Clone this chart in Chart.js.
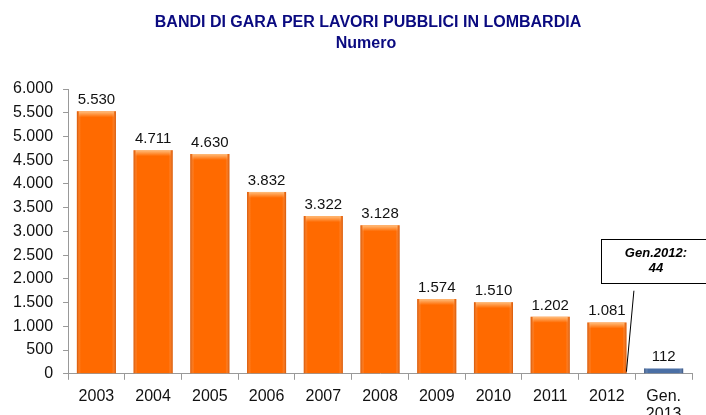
<!DOCTYPE html>
<html>
<head>
<meta charset="utf-8">
<script src="https://cdn.jsdelivr.net/npm/chart.js@4.4.1/dist/chart.umd.min.js"></script>
<style>
  html, body { margin: 0; padding: 0; background: #fff; }
  #wrap { width: 706px; height: 415px; }
</style>
</head>
<body>
<div id="wrap"><canvas id="chart" width="706" height="415"></canvas></div>
<script>
const categories = ["2003", "2004", "2005", "2006", "2007", "2008", "2009", "2010", "2011", "2012", ["Gen.", "2013"]];
const bandi = [5530, 4711, 4630, 3832, 3322, 3128, 1574, 1510, 1202, 1081, 112];
const gen2012 = [null, null, null, null, null, null, null, null, null, 44, null];
const yTicks = [0, 500, 1000, 1500, 2000, 2500, 3000, 3500, 4000, 4500, 5000, 5500, 6000];

const ORANGE = "#ff6a00";
const BLUE = "#4a6fa5";
const FONT = "'Liberation Sans', Arial, sans-serif";

// 4.711 style numbers
function fmt(n) {
  return String(n).replace(/\B(?=(\d{3})+(?!\d))/g, ".");
}

// title sits a bit right of the canvas centre in the original, so draw it here
const titlePlugin = {
  id: "headline",
  afterDraw(chart) {
    const ctx = chart.ctx;
    ctx.save();
    ctx.fillStyle = "#0a0a80";
    ctx.font = "bold 16px " + FONT;
    ctx.textAlign = "center";
    ctx.textBaseline = "middle";
    ctx.fillText("BANDI DI GARA PER LAVORI PUBBLICI IN LOMBARDIA", 368, 23);
    ctx.fillText("Numero", 366, 44);
    ctx.restore();
  }
};

// shading to give the bars their rounded look
const shadePlugin = {
  id: "shade",
  afterDatasetDraw(chart, args) {
    if (args.index !== 0) return;
    const ctx = chart.ctx;
    args.meta.data.forEach((bar, i) => {
      const { x, y, width, base } = bar.getProps(["x", "y", "width", "base"], true);
      const left = x - width / 2;
      const h = base - y;
      const dark = i === bandi.length - 1 ? "rgba(30,50,90,0.55)" : "rgba(170,60,0,0.5)";
      const g = ctx.createLinearGradient(left, 0, left + width, 0);
      g.addColorStop(0, dark);
      g.addColorStop(0.1, "rgba(255,255,255,0)");
      g.addColorStop(0.9, "rgba(255,255,255,0)");
      g.addColorStop(1, dark);
      ctx.save();
      ctx.fillStyle = g;
      ctx.fillRect(left, y, width, h);
      if (h > 8) {
        const t = ctx.createLinearGradient(0, y, 0, y + 6);
        t.addColorStop(0, "rgba(255,200,140,0.9)");
        t.addColorStop(1, "rgba(255,200,140,0)");
        ctx.fillStyle = t;
        ctx.fillRect(left + 2, y, width - 4, 6);
      }
      ctx.restore();
    });
  }
};

// value labels over the bars + callout for Gen.2012
const labelPlugin = {
  id: "labels",
  afterDatasetsDraw(chart) {
    const ctx = chart.ctx;
    const meta = chart.getDatasetMeta(0);
    const yScale = chart.scales.y;
    ctx.save();
    ctx.font = "15px " + FONT;
    ctx.fillStyle = "#111";
    ctx.textAlign = "center";
    ctx.textBaseline = "alphabetic";
    meta.data.forEach((bar, i) => {
      ctx.fillText(fmt(bandi[i]), bar.x, bar.y - 7);
    });

    // callout
    const idx = gen2012.findIndex(v => v !== null);
    const b = meta.data[idx];
    const small = chart.getDatasetMeta(1).data[idx];
    const boxLeft = b.x - 6;
    const boxTop = yScale.getPixelForValue(2830);
    const boxBottom = yScale.getPixelForValue(1900);
    const boxW = 114;
    ctx.fillStyle = "#fff";
    ctx.fillRect(boxLeft, boxTop, boxW, boxBottom - boxTop);
    ctx.strokeStyle = "#000";
    ctx.lineWidth = 1;
    ctx.strokeRect(Math.round(boxLeft) + 0.5, Math.round(boxTop) + 0.5, boxW, Math.round(boxBottom - boxTop));
    ctx.beginPath();
    ctx.moveTo(b.x + 27, yScale.getPixelForValue(1750));
    ctx.lineTo(b.x + small.width / 2, small.y);
    ctx.stroke();
    ctx.fillStyle = "#000";
    ctx.font = "bold italic 13px " + FONT;
    ctx.textBaseline = "middle";
    const cx = boxLeft + 55;
    ctx.fillText("Gen.2012:", cx, boxTop + 14);
    ctx.fillText(String(gen2012[idx]), cx, boxTop + 29);
    ctx.restore();
  }
};

new Chart(document.getElementById("chart"), {
  type: "bar",
  data: {
    labels: categories,
    datasets: [
      {
        data: bandi,
        backgroundColor: bandi.map((v, i) => i === bandi.length - 1 ? BLUE : ORANGE),
        borderWidth: 0,
        barPercentage: 0.8,
        categoryPercentage: 0.86
      },
      {
        data: gen2012,
        backgroundColor: "#a8501c",
        borderWidth: 0,
        barPercentage: 0.8,
        categoryPercentage: 0.86
      }
    ]
  },
  options: {
    responsive: false,
    animation: false,
    grouped: false,
    layout: { padding: { left: 3, right: 14, top: 89, bottom: -16 } },
    plugins: {
      legend: { display: false },
      tooltip: { enabled: false },
      title: { display: false }
    },
    scales: {
      x: {
        grid: { display: true, drawOnChartArea: false, drawTicks: true, tickLength: 6, color: "#999", offset: true },
        border: { color: "#999" },
        ticks: {
          color: "#111",
          font: { family: FONT, size: 16, lineHeight: 1.1 },
          padding: 8,
          maxRotation: 0,
          autoSkip: false
        }
      },
      y: {
        min: 0,
        max: 6000,
        afterBuildTicks(axis) { axis.ticks = yTicks.map(v => ({ value: v })); },
        grid: { display: true, drawOnChartArea: false, drawTicks: true, tickLength: 5, color: "#999" },
        border: { color: "#999" },
        ticks: {
          color: "#111",
          font: { family: FONT, size: 16 },
          padding: 10,
          callback: v => fmt(v)
        }
      }
    }
  },
  plugins: [titlePlugin, shadePlugin, labelPlugin]
});
</script>
</body>
</html>
